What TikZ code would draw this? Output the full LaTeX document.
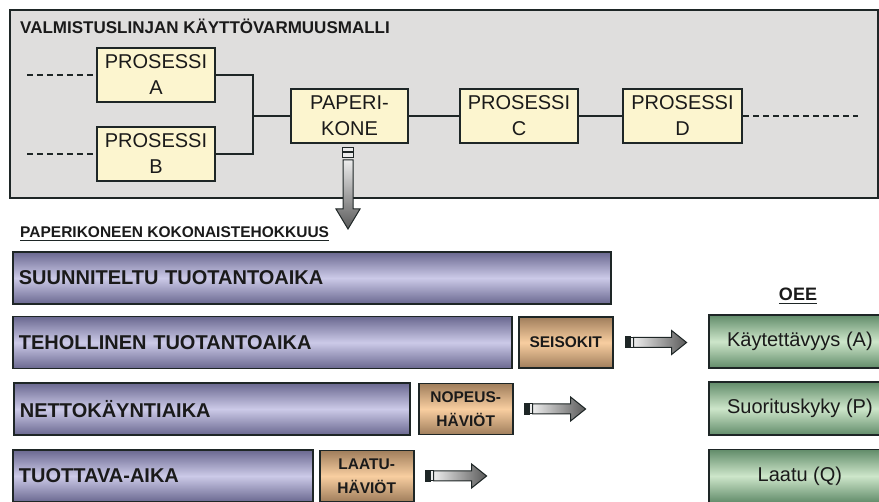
\documentclass[tikz,border=0pt]{standalone}
\usepackage{fontspec}
\setmainfont{Liberation Sans}
\usetikzlibrary{positioning}

\definecolor{panelgray}{HTML}{DFDEDD}
\definecolor{edgedark}{HTML}{1E2626}
\definecolor{procyellow}{HTML}{FCF5CF}
\definecolor{barlight}{HTML}{CCCAE8}
\definecolor{bardark}{HTML}{6A6890}
\definecolor{tanlight}{HTML}{F8CEA0}
\definecolor{tandark}{HTML}{A07E5C}
\definecolor{greenlight}{HTML}{CDE6CA}
\definecolor{greendark}{HTML}{628C6A}
\definecolor{textdark}{HTML}{1A1A1A}

\begin{document}
\begin{tikzpicture}[
    x=1pt, y=-1pt,
    text=textdark,
    % Style for the process boxes of the line
    proc/.style={
        draw=edgedark, line width=2, fill=procyellow,
        minimum width=118, minimum height=54, inner sep=0,
        align=center, font=\fontsize{20}{26}\selectfont
    },
    % Style for the connecting lines
    link/.style={draw=edgedark, line width=2},
    dline/.style={draw=edgedark, line width=1.6, dash pattern=on 6 off 4},
    % Style for the time bars
    timebar/.style={
        draw=edgedark, line width=1.8, anchor=west,
        top color=bardark, bottom color=bardark, middle color=barlight,
        minimum height=52, inner xsep=6, align=left,
        font=\fontsize{20}{22}\selectfont\bfseries
    },
    % Style for the loss boxes
    loss/.style={
        draw=edgedark, line width=1.8,
        top color=tandark, bottom color=tandark, middle color=tanlight,
        minimum width=94, minimum height=51, inner sep=0,
        align=center, font=\fontsize{15.5}{24}\selectfont\bfseries
    },
    % Style for the OEE boxes
    oee/.style={
        draw=edgedark, line width=1.8, anchor=west,
        top color=greendark, bottom color=greendark, middle color=greenlight,
        minimum width=182, minimum height=53, inner sep=0,
        font=\fontsize{20}{22}\selectfont
    },
    arrowedge/.style={draw=edgedark, line width=1},
    harrow/.pic={
        \fill[edgedark] (0,-6) rectangle (6,6);
        \draw[arrowedge, fill=gray!15] (6,-5) rectangle (9,5);
        \draw[arrowedge, left color=gray!15, right color=gray!70!black]
            (9,-5) -- (47,-5) -- (47,-12) -- (62,0) -- (47,12) -- (47,5) -- (9,5) -- cycle;
    }
]
\path[use as bounding box, clip] (0,0) rectangle (879,502);

% --- Line model panel ---
\draw[draw=edgedark, line width=2, fill=panelgray] (10,10) rectangle (877.5,198);
\node[anchor=west, inner sep=0, font=\fontsize{17}{20}\selectfont\bfseries]
    (paneltitle) at (20,26) {VALMISTUSLINJAN KÄYTTÖVARMUUSMALLI};

\node[proc] (procA) at (156,75) {PROSESSI\\A};
\node[proc] (procB) at (156,154) {PROSESSI\\B};
\node[proc, minimum width=117] (kone) at (349.5,116) {PAPERI-\\KONE};
\node[proc] (procC) at (519,116) {PROSESSI\\C};
\node[proc, minimum width=119] (procD) at (682.5,116) {PROSESSI\\D};

\coordinate (inA) at (27,75);
\coordinate (inB) at (27,154);
\coordinate (join) at (253,116);
\coordinate (outD) at (858,116);

\draw[dline] (inA) -- (procA.west);
\draw[dline] (inB) -- (procB.west);
\draw[link] (procA.east) -| (join) |- (procB.east);
\draw[link] (join) -- (kone.west);
\draw[link] (kone) -- (procC);
\draw[link] (procC) -- (procD);
\draw[dline] (procD.east) -- (outD);

% --- Arrow down from the paper machine ---
\begin{scope}[shift={(kone.south)}]
    \draw[arrowedge, fill=gray!15] (-7.5,4) rectangle (3.5,8);
    \draw[arrowedge, fill=gray!15] (-7.5,9) rectangle (3.5,14);
    \draw[arrowedge, top color=gray!15, bottom color=gray!70!black]
        (-6.5,16) -- (3.5,16) -- (3.5,65) -- (10.5,65) -- (-1.5,85)
        -- (-13.5,65) -- (-6.5,65) -- cycle;
\end{scope}

% --- Overall efficiency ---
\node[anchor=west, inner sep=0, font=\fontsize{15.5}{18}\selectfont\bfseries]
    (oeetitle) at (20,232) {PAPERIKONEEN KOKONAISTEHOKKUUS};
\draw[edgedark, line width=1.5] ([yshift=-3pt]oeetitle.south west) -- ([yshift=-3pt]oeetitle.south east);

\node[timebar, text width=586] (suun) at (12,278) {SUUNNITELTU TUOTANTOAIKA};
\node[timebar, text width=487] (teho) at (12,342.5) {TEHOLLINEN TUOTANTOAIKA};
\node[timebar, text width=384] (netto) at (13,409) {NETTOKÄYNTIAIKA};
\node[timebar, text width=288] (tuott) at (12,476) {TUOTTAVA-AIKA};

\node[loss, right=5pt of teho] (seis) {SEISOKIT};
\node[loss, right=7pt of netto] (nopeus) {NOPEUS-\\HÄVIÖT};
\node[loss, right=5pt of tuott] (laatu) {LAATU-\\HÄVIÖT};

\pic at ([xshift=11pt]seis.east) {harrow};
\pic at ([xshift=10pt]nopeus.east) {harrow};
\pic at ([xshift=10pt]laatu.east) {harrow};

% --- OEE factors ---
\node[inner sep=0, font=\fontsize{18}{20}\selectfont\bfseries] (oee) at (798,294) {OEE};
\draw[edgedark, line width=1.5] ([yshift=-3pt]oee.south west) -- ([yshift=-3pt]oee.south east);

\node[oee] (kaytt) at (708,341.5) {Käytettävyys (A)};
\node[oee] (suor) at (708,408.5) {Suorituskyky (P)};
\node[oee] (laatuq) at (708,476) {Laatu (Q)};

\end{tikzpicture}
\end{document}
